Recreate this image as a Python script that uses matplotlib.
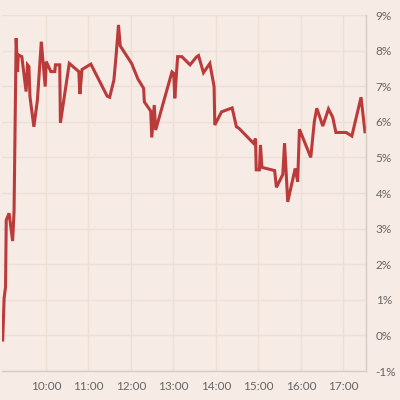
import matplotlib
matplotlib.use("Agg")
import matplotlib.pyplot as plt

# minutes after 09:00 and the value in percent
minutes = [-1, 1, 3, 4, 8, 13, 15, 18, 20, 21, 26, 32, 34, 36, 37.5, 43, 48, 53.5,
           59, 60.5, 67, 72.5, 73.5, 79.5, 80.5, 93, 106.5, 108, 111, 123.5, 146.5,
           150, 156, 159, 162.5, 165, 181, 190, 198, 199, 208, 209.5, 213, 215,
           238, 240.5, 242, 246, 252, 263.5, 272.5, 275.5, 282.5, 291.5, 297.5,
           298.5, 308, 323, 329, 332.5, 353, 356, 357, 361.5, 363, 365, 383, 385.5,
           394.5, 397, 401.5, 412, 415.5, 418, 434, 439, 442.5, 451, 459, 465,
           469.5, 484, 492, 505, 510.5]
values = [-0.13, 1.05, 1.36, 3.24, 3.43, 2.65, 3.47, 8.35, 7.41, 7.88, 7.83, 6.85,
          7.6, 7.55, 6.7, 5.86, 6.61, 8.25, 6.99, 7.69, 7.41, 7.41, 7.6, 7.6, 5.97,
          7.64, 7.41, 6.78, 7.47, 7.62, 6.72, 6.69, 7.17, 7.83, 8.72, 8.13, 7.64,
          7.2, 6.94, 6.56, 6.3, 5.56, 6.47, 5.77, 7.4, 7.36, 6.66, 7.83, 7.83, 7.6,
          7.82, 7.86, 7.38, 7.64, 6.99, 5.91, 6.28, 6.39, 5.86, 5.82, 5.4, 5.53,
          4.65, 4.65, 5.35, 4.72, 4.63, 4.16, 4.52, 5.4, 3.75, 4.69, 4.32, 5.79,
          5.0, 6.0, 6.38, 5.88, 6.36, 6.13, 5.7, 5.7, 5.6, 6.69, 5.72]

hour_ticks = [60, 120, 180, 240, 300, 360, 420, 480]
hour_labels = ["10:00", "11:00", "12:00", "13:00", "14:00", "15:00", "16:00", "17:00"]
pct_ticks = list(range(-1, 10))

bg = "#f6ebe5"
fig = plt.figure(figsize=(4, 4), dpi=100, facecolor=bg)
ax = fig.add_axes([0.005, 0.0725, 0.91, 0.89], facecolor=bg)

ax.plot(minutes, values, color="#bb3a3a", lw=2.2, solid_joinstyle="miter")

ax.set_xlim(-2, 512)
ax.set_ylim(-1, 9)
ax.set_xticks(hour_ticks)
ax.set_xticklabels(hour_labels)
ax.set_yticks(pct_ticks)
ax.set_yticklabels([f"{p}%" for p in pct_ticks])
ax.yaxis.tick_right()

ax.grid(True, color="#eedfd4", lw=0.9)
ax.set_axisbelow(True)
for s in ["top", "left"]:
    ax.spines[s].set_visible(False)
for s in ["right", "bottom"]:
    ax.spines[s].set_color("#d6cbc5")
    ax.spines[s].set_linewidth(1)
ax.tick_params(length=0, labelsize=8.5, labelcolor="#666666", pad=7,
               labelfontfamily="Lato")

fig.savefig("out.png", dpi=100, facecolor=bg)
